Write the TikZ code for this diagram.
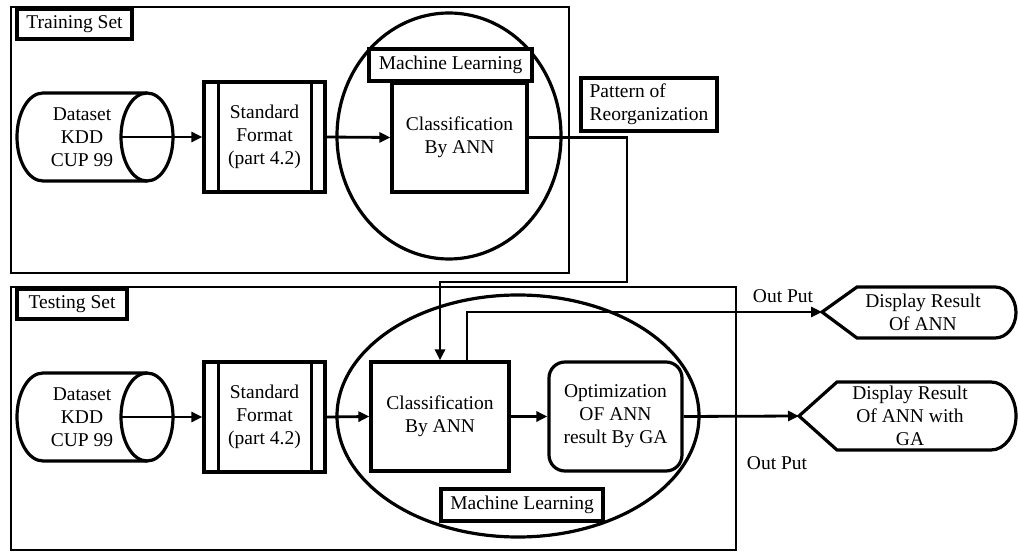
\documentclass[tikz,border=0pt]{standalone}
\usepackage{fontspec}
\setmainfont{Liberation Serif}
\usetikzlibrary{arrows.meta,calc,shapes.geometric}
\begin{document}
\begin{tikzpicture}[x=1pt,y=-1pt,
  txt/.style={font=\fontsize{19.5}{23}\selectfont, align=center},
  box/.style={draw, line width=3.2pt, txt, inner sep=0pt, fill=white},
  frame/.style={draw, line width=2.4pt},
  shp/.style={line width=3.2pt},
  oval/.style={draw, ellipse, line width=3.2pt, inner sep=0pt},
  conn/.style={line width=2.8pt},
  arr/.style={conn, -{Triangle[length=11pt,width=10pt]}},
]
\useasboundingbox (0,0) rectangle (1018,553);

% frames
\draw[frame] (11,7) rectangle (569,273);
\draw[frame] (11,287) rectangle (736,550);
\node[box, minimum width=115pt, minimum height=30pt] (trainlab) at (74.5,24) {Training Set};
\node[box, minimum width=110pt, minimum height=30pt] (testlab) at (72,304) {Testing Set};

% ===== Training =====
\draw[shp] (147,93) -- (43,93) arc[start angle=90,end angle=270,x radius=26pt,y radius=44pt] -- (147,181);
\draw[shp] (147,137) ellipse [x radius=26pt, y radius=44pt];
\node[txt] (cyl1) at (82,137) {Dataset\\KDD\\CUP 99};
\coordinate (cyl1o) at (121,137);

\node[box, minimum width=121pt, minimum height=110pt] (std1) at (264.5,137) {Standard\\Format\\(part 4.2)};
\draw[shp] ([xshift=16pt]std1.north west) -- ([xshift=16pt]std1.south west);
\draw[shp] ([xshift=-15pt]std1.north east) -- ([xshift=-15pt]std1.south east);

\node[oval, minimum width=224pt, minimum height=246pt] (ml1) at (449,136) {};
\node[box, minimum width=163pt, minimum height=32pt] (mllab1) at (450.5,65) {Machine Learning};
\node[box, minimum width=135pt, minimum height=109pt] (cls1) at (459.5,137.5) {Classification\\By ANN};

\node[box, align=left, minimum width=136pt, minimum height=53pt] (pat) at (649,104.5) {Pattern of\\Reorganization};

\draw[arr] (cyl1o) -- (std1.west);
\draw[arr] (std1.east) -- (cls1.west);

% ===== Testing =====
\draw[shp] (147,373) -- (43,373) arc[start angle=90,end angle=270,x radius=26pt,y radius=44pt] -- (147,461);
\draw[shp] (147,417) ellipse [x radius=26pt, y radius=44pt];
\node[txt] (cyl2) at (82,417) {Dataset\\KDD\\CUP 99};
\coordinate (cyl2o) at (121,417);

\node[box, minimum width=121pt, minimum height=110pt] (std2) at (264.5,417) {Standard\\Format\\(part 4.2)};
\draw[shp] ([xshift=16pt]std2.north west) -- ([xshift=16pt]std2.south west);
\draw[shp] ([xshift=-15pt]std2.north east) -- ([xshift=-15pt]std2.south east);

\node[oval, minimum width=362pt, minimum height=242pt] (ml2) at (518,416) {};
\node[box, minimum width=138pt, minimum height=109pt] (cls2) at (440,416.5) {Classification\\By ANN};
\node[box, rounded corners=16pt, minimum width=133pt, minimum height=109pt] (opt) at (615.5,416.5) {Optimization\\OF ANN\\result By GA};
\node[box, minimum width=162pt, minimum height=32pt] (mllab2) at (522,505) {Machine Learning};

% displays
\coordinate (d1w) at (822,312);
\draw[shp] (d1w) -- (857,287) -- (995,287) arc[start angle=90,end angle=-90,x radius=21pt,y radius=25.5pt] -- (857,338) -- cycle;
\node[txt] (d1) at (923,312) {Display Result\\Of ANN};

\coordinate (d2w) at (799,416);
\draw[shp] (d2w) -- (837,382) -- (991,382) arc[start angle=90,end angle=-90,x radius=25pt,y radius=34pt] -- (837,450) -- cycle;
\node[txt] (d2) at (910,416) {Display Result\\Of ANN with\\GA};

\node[txt] (out1) at (783,296) {Out Put};
\node[txt] (out2) at (777,463) {Out Put};

\draw[arr] (cyl2o) -- (std2.west);
\draw[arr] (std2.east) -- (cls2.west);
\draw[arr] (cls2.east) -- (opt.west);

% connectors
\coordinate (fb) at (627,282);
\draw[arr] (cls1.east) -| (fb) -| (cls2.north);
\draw[arr] ([xshift=27pt]cls2.north) |- (d1w);
\draw[arr] (opt.east) -- (d2w);
\end{tikzpicture}
\end{document}
